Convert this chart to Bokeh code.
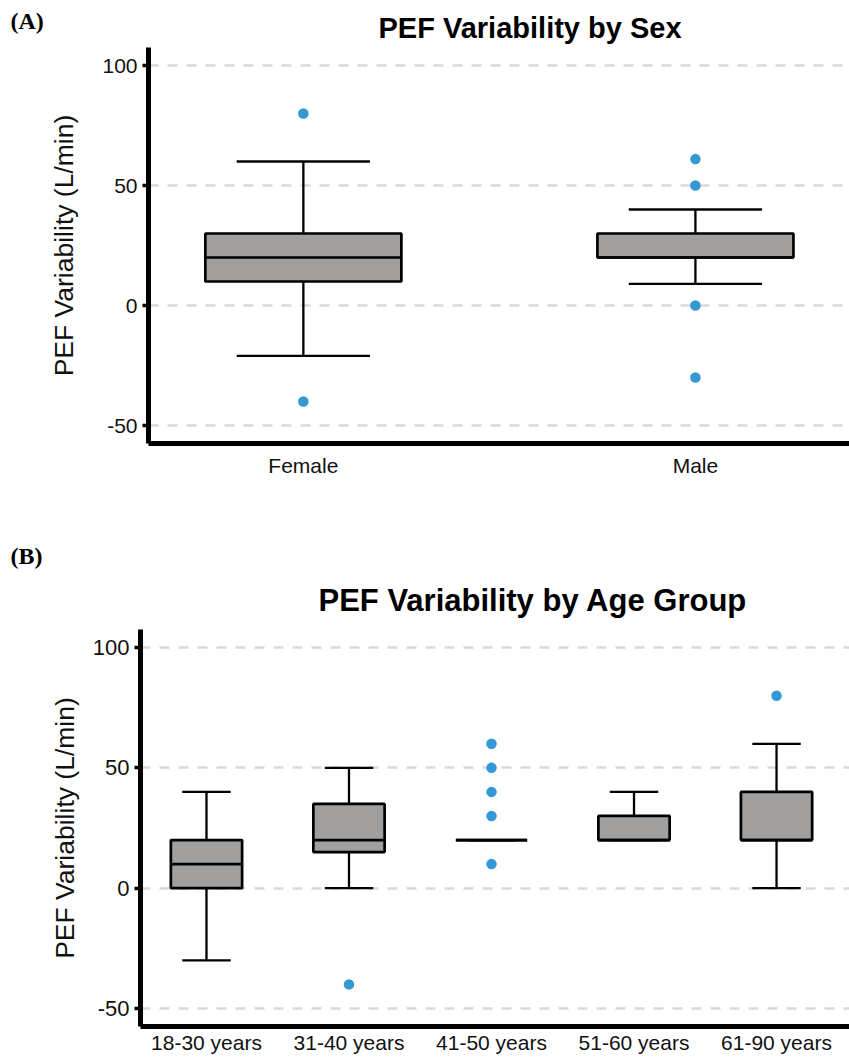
from bokeh.plotting import figure
from bokeh.models import Range1d, FixedTicker, Label, Title
from bokeh.layouts import column
from bokeh.embed import file_html
from bokeh.resources import INLINE

# ---------------- data ----------------
sex_groups = ["Female", "Male"]
sex_q1 = [10, 20]
sex_median = [20, 20]
sex_q3 = [30, 30]
sex_low = [-21, 9]
sex_high = [60, 40]
sex_out_group = ["Female", "Female", "Male", "Male", "Male", "Male"]
sex_out_value = [80, -40, 61, 50, 0, -30]

age_groups = ["18-30 years", "31-40 years", "41-50 years", "51-60 years", "61-90 years"]
age_q1 = [0, 15, 20, 20, 20]
age_median = [10, 20, 20, 20, 20]
age_q3 = [20, 35, 20, 30, 40]
age_low = [-30, 0, 20, 20, 0]
age_high = [40, 50, 20, 40, 60]
age_out_group = ["31-40 years", "41-50 years", "41-50 years", "41-50 years",
                 "41-50 years", "41-50 years", "61-90 years"]
age_out_value = [-40, 60, 50, 40, 30, 10, 80]

y_ticks = [-50, 0, 50, 100]
y_tick_labels = ["-50", "0", "50", "100"]

FONT = "Liberation Sans"
BOX_FILL = "#a09f9e"
DOT = "#3498d3"
TXT = "#111111"


def make_panel(groups, q1, med, q3, lo, hi, out_g, out_v,
               width, height, left, top, bottom, xr, xlab_standoff,
               ylab_standoff, ytick_size):
    p = figure(width=width, height=height, output_backend="svg",
               toolbar_location=None, x_range=Range1d(*xr),
               y_range=Range1d(-57.5, 107.5),
               min_border_left=left, min_border_right=0,
               min_border_top=top, min_border_bottom=bottom)
    if "frame_align" in p.properties():
        p.frame_align = False
    p.outline_line_color = None
    p.background_fill_color = "white"
    p.border_fill_color = "white"

    xs = list(range(1, len(groups) + 1))
    box_w = 0.5
    cap_w = 0.34

    # grid
    p.xgrid.grid_line_color = None
    p.ygrid.ticker = FixedTicker(ticks=y_ticks)
    p.ygrid.grid_line_color = "#d9d9d9"
    p.ygrid.grid_line_width = 2.5
    p.ygrid.grid_line_dash = "10 9"

    # whisker stems
    p.segment(x0=xs, y0=q3, x1=xs, y1=hi, line_color="black", line_width=2.3)
    p.segment(x0=xs, y0=q1, x1=xs, y1=lo, line_color="black", line_width=2.3)
    # caps
    p.segment(x0=[x - cap_w / 2 for x in xs], y0=hi, x1=[x + cap_w / 2 for x in xs], y1=hi,
              line_color="black", line_width=2.3)
    p.segment(x0=[x - cap_w / 2 for x in xs], y0=lo, x1=[x + cap_w / 2 for x in xs], y1=lo,
              line_color="black", line_width=2.3)
    # boxes
    p.vbar(x=xs, width=box_w, top=q3, bottom=q1, fill_color=BOX_FILL,
           line_color="black", line_width=2.7)
    # medians
    p.segment(x0=[x - box_w / 2 for x in xs], y0=med, x1=[x + box_w / 2 for x in xs], y1=med,
              line_color="black", line_width=2.7)
    # outliers
    ox = [groups.index(g) + 1 for g in out_g]
    p.scatter(x=ox, y=out_v, size=10.5, fill_color=DOT, line_color=None)

    # axes
    p.xaxis.ticker = FixedTicker(ticks=xs)
    p.xaxis.major_label_overrides = {x: g for x, g in zip(xs, groups)}
    p.xaxis.major_tick_line_color = None
    p.xaxis.major_tick_out = 0
    p.xaxis.major_tick_in = 0
    p.xaxis.minor_tick_line_color = None
    p.xaxis.minor_tick_out = 0
    p.xaxis.axis_line_width = 5
    p.xaxis.axis_line_color = "black"
    p.xaxis.major_label_text_font = FONT
    p.xaxis.major_label_text_font_size = "21px"
    p.xaxis.major_label_text_color = TXT
    p.xaxis.major_label_standoff = xlab_standoff

    p.yaxis.ticker = FixedTicker(ticks=y_ticks)
    p.yaxis.major_label_overrides = {t: s for t, s in zip(y_ticks, y_tick_labels)}
    p.yaxis.axis_line_width = 5
    p.yaxis.axis_line_color = "black"
    p.yaxis.major_tick_line_width = 3.5
    p.yaxis.major_tick_out = 6
    p.yaxis.major_tick_in = 0
    p.yaxis.minor_tick_line_color = None
    p.yaxis.major_label_standoff = 5
    p.yaxis.major_label_text_font = FONT
    p.yaxis.major_label_text_font_size = ytick_size
    p.yaxis.major_label_text_color = TXT
    p.yaxis.axis_label = "PEF Variability (L/min)"
    p.yaxis.axis_label_text_font = FONT
    p.yaxis.axis_label_text_font_size = "26.5px"
    p.yaxis.axis_label_text_font_style = "normal"
    p.yaxis.axis_label_text_color = TXT
    p.yaxis.axis_label_standoff = ylab_standoff
    return p


def style_title(t, text, size, offset, standoff):
    t.text = text
    t.text_font = FONT
    t.text_font_size = size
    t.text_font_style = "bold"
    t.text_color = "black"
    t.align = "left"
    t.offset = offset
    t.standoff = standoff


def style_letter(t, text, offset, standoff):
    t.text = text
    t.text_font = "Liberation Serif"
    t.text_font_size = "24px"
    t.text_font_style = "bold"
    t.text_color = "black"
    t.align = "left"
    t.offset = offset
    t.standoff = standoff


# ---- panel A ----
pA = make_panel(sex_groups, sex_q1, sex_median, sex_q3,
                sex_low, sex_high, sex_out_group, sex_out_value,
                width=849, height=500, left=148, top=47, bottom=57,
                xr=(0.605, 2.393), xlab_standoff=10, ylab_standoff=20,
                ytick_size="21px")
style_title(pA.title, "PEF Variability by Sex", "29px", 230, 8)
pA.add_layout(Label(x=10, y=20, x_units="canvas", y_units="canvas",
                    text="(A)", text_font="Liberation Serif", text_font_style="bold",
                    text_font_size="24px", text_baseline="middle", text_align="left",
                    text_color="black"), "left")

# ---- panel B ----
pB = make_panel(age_groups, age_q1, age_median, age_q3,
                age_low, age_high, age_out_group, age_out_value,
                width=849, height=559, left=140, top=129, bottom=33,
                xr=(0.537, 5.512), xlab_standoff=4, ylab_standoff=10,
                ytick_size="22px")
# outermost: panel letter; inner: chart title
style_letter(pB.title, "(B)", -130, 0)
main_title_B = Title()
style_title(main_title_B, "PEF Variability by Age Group", "31px", 178, 24)
pB.add_layout(main_title_B, "above")

layout = column(pA, pB, spacing=0)
open("out.html", "w").write(file_html(layout, INLINE))
